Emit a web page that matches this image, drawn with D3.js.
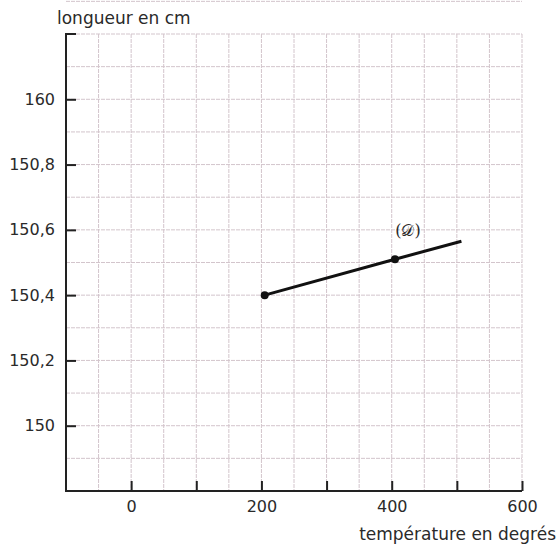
<!DOCTYPE html>
<html><head><meta charset="utf-8">
<script src="https://cdn.jsdelivr.net/npm/d3@7"></script>
<style>
body{margin:0;background:#fff;}
text{font-family:"DejaVu Sans",sans-serif;fill:#2a2a2a;}
</style></head>
<body><svg id="c" width="558" height="549"></svg>
<script>
// Data
const xTickValues = [0, 200, 400, 600];
const xMinorTicks = [100, 300, 500];
const yTickValues = [150, 150.2, 150.4, 150.6, 150.8, 151];
const yTickLabels = ["150", "150,2", "150,4", "150,6", "150,8", "160"];
const lineX = [205, 405, 507];
const lineY = [150.40, 150.51, 150.565];
const dotIdx = [0, 1];
const seriesLabel = "(𝒟)";
const xTitle = "température en degrés";
const yTitle = "longueur en cm";

const svg = d3.select("#c");
const x = d3.scaleLinear().domain([-100, 600]).range([66, 522]);
const y = d3.scaleLinear().domain([149.8, 151.2]).range([491, 34]);

// grid
const gridCol = "#d3c5cc";
const g = svg.append("g");
g.selectAll("line.v").data(d3.range(-50, 601, 50)).join("line")
  .attr("x1", d => x(d)).attr("x2", d => x(d)).attr("y1", y(151.2)).attr("y2", y(149.8))
  .attr("stroke", gridCol).attr("stroke-width", 1).attr("stroke-dasharray", "4,1");
g.selectAll("line.h").data(d3.range(0, 15).map(i => 149.9 + i * 0.1)).join("line")
  .attr("x1", x(-100)).attr("x2", x(600)).attr("y1", d => y(d)).attr("y2", d => y(d))
  .attr("stroke", gridCol).attr("stroke-width", 1).attr("stroke-dasharray", "4,1");

// axes
const xAxis = d3.axisBottom(x).tickValues([...xTickValues, ...xMinorTicks].sort((a,b)=>a-b))
  .tickSize(-10).tickPadding(10).tickFormat(d => xTickValues.includes(d) ? d : "");
const xg = svg.append("g").attr("transform", `translate(0,${y(149.8)})`).call(xAxis);
const yAxis = d3.axisLeft(y).tickValues(yTickValues).tickSize(-10).tickPadding(11)
  .tickFormat((d, i) => yTickLabels[i]);
const yg = svg.append("g").attr("transform", `translate(${x(-100)},0)`).call(yAxis);
[xg, yg].forEach(a => {
  a.select(".domain").remove();
  a.selectAll(".tick line").attr("stroke", "#222").attr("stroke-width", 2);
  a.selectAll(".tick text").style("font-size", "16px").attr("fill", "#2a2a2a");
});
// axis lines
svg.append("path")
  .attr("d", `M${x(-100)+10},${y(151.2)} H${x(-100)} V${y(149.8)} H${x(600)}`)
  .attr("fill", "none").attr("stroke", "#222").attr("stroke-width", 2);

// series line
const pts = lineX.map((v, i) => [v, lineY[i]]);
svg.append("path").datum(pts)
  .attr("d", d3.line().x(d => x(d[0])).y(d => y(d[1])))
  .attr("fill", "none").attr("stroke", "#111").attr("stroke-width", 3);
svg.selectAll("circle.p").data(dotIdx.map(i => pts[i])).join("circle")
  .attr("cx", d => x(d[0])).attr("cy", d => y(d[1])).attr("r", 4).attr("fill", "#111");
svg.append("text").attr("x", x(425)).attr("y", y(150.57) - 4).attr("text-anchor", "middle")
  .style("font-size", "16px").style("font-family", "'DejaVu Serif',serif").text(seriesLabel);

// titles
svg.append("text").attr("x", 57).attr("y", 24).style("font-size", "17px").text(yTitle);
svg.append("text").attr("x", 556).attr("y", 540).attr("text-anchor", "end")
  .style("font-size", "17px").text(xTitle);
</script></body></html>
